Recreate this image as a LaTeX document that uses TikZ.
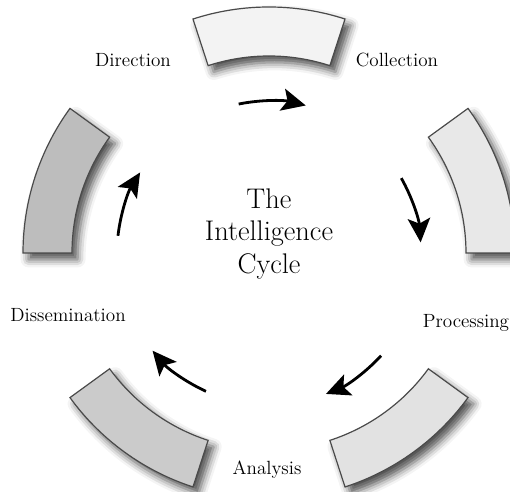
\documentclass[tikz,border=0pt]{standalone}
\usepackage{xcolor}
\usepackage{tikz}
\usetikzlibrary{
    arrows.meta,
    positioning,
    calc,
    shadows.blur
}
\definecolor{icgray}{HTML}{4A4A4A}
\definecolor{icdir}{HTML}{F3F3F3}
\definecolor{iccol}{HTML}{E8E8E8}
\definecolor{icpro}{HTML}{E2E2E2}
\definecolor{icana}{HTML}{CBCBCB}
\definecolor{icdis}{HTML}{BDBDBD}
\tikzset{
    % Ring segment
    segbox/.style={
        draw=icgray,
        fill=#1,
        line width=0.3mm,
        blur shadow={shadow xshift=1.4mm, shadow yshift=-1.6mm,
            shadow blur radius=2mm, shadow opacity=70}
    },
    segbox/.default=icdir,
    % Stage label
    stagelabel/.style={
        font=\fontsize{13.6}{16}\selectfont,
        anchor=base,
        inner sep=0pt
    },
    % Title in the middle
    titlenode/.style={
        font=\fontsize{20.2}{23}\selectfont,
        align=center,
        inner sep=0pt
    },
    % Curved arrow
    cyclearrow/.style={
        -{Stealth[length=6mm, width=5.6mm, inset=1.3mm]},
        line width=0.7mm,
        color=black
    }
}
\begin{document}
\begin{tikzpicture}[x=0.25mm, y=0.25mm]

    \useasboundingbox (-269,-239) rectangle (241,253);

    % Segments
    \draw[segbox=icdir] (72:197) arc[start angle=72, end angle=108, radius=197]
        -- (108:246) arc[start angle=108, end angle=72, radius=246] -- cycle;
    \draw[segbox=iccol] (0:197) arc[start angle=0, end angle=36, radius=197]
        -- (36:246) arc[start angle=36, end angle=0, radius=246] -- cycle;
    \draw[segbox=icpro] (-72:197) arc[start angle=-72, end angle=-36, radius=197]
        -- (-36:246) arc[start angle=-36, end angle=-72, radius=246] -- cycle;
    \draw[segbox=icana] (-144:197) arc[start angle=-144, end angle=-108, radius=197]
        -- (-108:246) arc[start angle=-108, end angle=-144, radius=246] -- cycle;
    \draw[segbox=icdis] (144:197) arc[start angle=144, end angle=180, radius=197]
        -- (180:246) arc[start angle=180, end angle=144, radius=246] -- cycle;

    % Stage labels
    \node[stagelabel] (direction) at (-136,186) {Direction};
    \node[stagelabel] (collection) at (128,186) {Collection};
    \node[stagelabel] (processing) at (197,-75) {Processing};
    \node[stagelabel] (analysis) at (-2,-222) {Analysis};
    \node[stagelabel] (dissemination) at (-201,-69) {Dissemination};

    % Title
    \node[titlenode] (title) at (0,19) {The\\Intelligence\\Cycle};

    % Arrows
    \coordinate (a-dir) at (101.5:152);
    \coordinate (a-col) at (29.5:152);
    \coordinate (a-pro) at (-42.5:152);
    \coordinate (a-ana) at (-114.5:152);
    \coordinate (a-dis) at (173.5:152);
    \draw[cyclearrow] (a-dir) arc[start angle=101.5, end angle=76, radius=152];
    \draw[cyclearrow] (a-col) arc[start angle=29.5, end angle=4, radius=152];
    \draw[cyclearrow] (a-pro) arc[start angle=-42.5, end angle=-68, radius=152];
    \draw[cyclearrow] (a-ana) arc[start angle=-114.5, end angle=-140, radius=152];
    \draw[cyclearrow] (a-dis) arc[start angle=173.5, end angle=148, radius=152];

\end{tikzpicture}
\end{document}
